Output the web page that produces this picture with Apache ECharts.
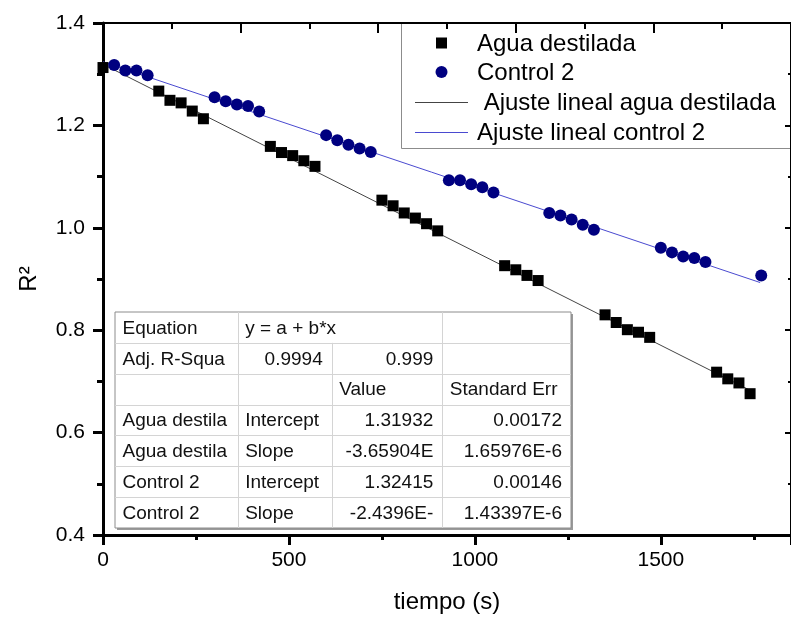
<!DOCTYPE html>
<html>
<head>
<meta charset="utf-8">
<script src="https://cdn.jsdelivr.net/npm/echarts@6/dist/echarts.min.js"></script>
<style>html,body{margin:0;padding:0;background:#fff}#c{width:791px;height:619px}</style>
</head>
<body>
<div id="c"></div>
<script>
// ---- data ----
const aguaT = [0,150,180,210,240,270,450,480,510,540,570,750,780,810,840,870,900,1080,1110,1140,1170,1350,1380,1410,1440,1470,1650,1680,1710,1740];
const aguaR2 = [1.313,1.267,1.249,1.244,1.228,1.213,1.159,1.147,1.141,1.131,1.120,1.054,1.043,1.029,1.019,1.008,0.994,0.926,0.918,0.907,0.897,0.830,0.815,0.801,0.796,0.786,0.718,0.705,0.697,0.676];
const controlT = [30,60,90,120,300,330,360,390,420,600,630,660,690,720,930,960,990,1020,1050,1200,1230,1260,1290,1320,1500,1530,1560,1590,1620,1770];
const controlR2 = [1.318,1.307,1.307,1.298,1.255,1.247,1.241,1.238,1.227,1.181,1.171,1.162,1.155,1.148,1.093,1.093,1.085,1.079,1.069,1.029,1.024,1.016,1.006,0.996,0.961,0.952,0.944,0.941,0.933,0.907];
const fitAguaT = [0,1745];
const fitAguaR2 = [1.3193,0.6808];
const fitControlT = [0,1767];
const fitControlR2 = [1.3242,0.8931];
const seriesNames = ['Agua destilada','Control 2',' Ajuste lineal agua destilada','Ajuste lineal control 2'];
const xTicks = [0,500,1000,1500];
const yTicks = [0.4,0.6,0.8,1.0,1.2,1.4];
const tableRows = [
  ['Equation','y = a + b*x','',''],
  ['Adj. R-Squa','0.9994','0.999',''],
  ['','','Value','Standard Err'],
  ['Agua destila','Intercept','1.31932','0.00172'],
  ['Agua destila','Slope','-3.65904E','1.65976E-6'],
  ['Control 2','Intercept','1.32415','0.00146'],
  ['Control 2','Slope','-2.4396E-','1.43397E-6']
];

// ---- layout / style ----
const FONT = 'Liberation Sans, Arial, Helvetica, sans-serif';
const zip = (a,b) => a.map((v,i)=>[v,b[i]]);
const G = {left:103, top:23, width:690, height:514};
const COL = {agua:'#000000', control:'#000080', fitAgua:'#444444', fitControl:'#4a4ad0'};

// table geometry
const TX = 115, TY = 312, TW = 456, TH = 216;
const colX = [115, 237.7, 331.7, 442.3, 571];
const rowH = TH / tableRows.length;
const align = [
  ['left','left','left','left'],
  ['left','right','right','right'],
  ['left','left','left','left'],
  ['left','left','right','right'],
  ['left','left','right','right'],
  ['left','left','right','right'],
  ['left','left','right','right']
];
const tableEls = [];
tableEls.push({type:'rect', shape:{x:TX+2,y:TY+2,width:TW,height:TH}, style:{fill:'#9a9a9a'}, z:50});
tableEls.push({type:'rect', shape:{x:TX,y:TY,width:TW,height:TH}, style:{fill:'#fff',stroke:'#8c8c8c',lineWidth:1}, z:51});
for (let k=1;k<tableRows.length;k++){
  const y = Math.round(TY + k*rowH)+0.5;
  tableEls.push({type:'line', shape:{x1:TX,y1:y,x2:TX+TW,y2:y}, style:{stroke:'#d4d4d4',lineWidth:1}, z:52});
}
[1,3].forEach(c=>{
  const x = Math.round(colX[c])+0.5;
  tableEls.push({type:'line', shape:{x1:x,y1:TY,x2:x,y2:TY+TH}, style:{stroke:'#d4d4d4',lineWidth:1}, z:52});
});
{
  const x = Math.round(colX[2])+0.5;
  tableEls.push({type:'line', shape:{x1:x,y1:TY+rowH,x2:x,y2:TY+TH}, style:{stroke:'#d4d4d4',lineWidth:1}, z:52});
}
tableRows.forEach((row,r)=>{
  row.forEach((txt,c)=>{
    if(!txt) return;
    const a = align[r][c];
    const x = a==='left' ? colX[c]+7.5 : colX[c+1]-9;
    tableEls.push({type:'text', z:53, style:{text:txt, x:x, y:TY+rowH*(r+0.5)+1, align:a, verticalAlign:'middle', font:'19px '+FONT, fill:'#111'}});
  });
});

// legend box (drawn as graphic for exact icon shapes)
const LG = {x:401.5, y:23.5, w:400, h:125, iconX:415, iconW:53, textX:477, rows:[43,72,102,132]};
const legendEls = [
  {type:'rect', shape:{x:LG.x,y:LG.y,width:LG.w,height:LG.h}, style:{fill:'#fff',stroke:'#8c8c8c',lineWidth:1}},
  {type:'rect', shape:{x:LG.iconX+LG.iconW/2-5.5, y:LG.rows[0]-5.5, width:11, height:11}, style:{fill:COL.agua}},
  {type:'circle', shape:{cx:LG.iconX+LG.iconW/2, cy:LG.rows[1], r:6}, style:{fill:COL.control}},
  {type:'line', shape:{x1:LG.iconX, y1:LG.rows[2]+0.5, x2:LG.iconX+LG.iconW, y2:LG.rows[2]+0.5}, style:{stroke:COL.fitAgua, lineWidth:1}},
  {type:'line', shape:{x1:LG.iconX, y1:LG.rows[3]+0.5, x2:LG.iconX+LG.iconW, y2:LG.rows[3]+0.5}, style:{stroke:COL.fitControl, lineWidth:1}}
];
seriesNames.forEach((n,i)=>{
  legendEls.push({type:'text', style:{text:n, x:LG.textX, y:LG.rows[i]+1, align:'left', verticalAlign:'middle', font:'24px '+FONT, fill:'#000'}});
});

const chart = echarts.init(document.getElementById('c'));
chart.setOption({
  animation:false,
  backgroundColor:'#fff',
  grid:{left:G.left, top:G.top, width:G.width, height:G.height},
  xAxis:[{
    type:'value', position:'bottom', min:0, max:1850, interval:500,
    name:'tiempo (s)', nameLocation:'middle', nameGap:55,
    nameTextStyle:{fontSize:24, fontFamily:FONT, color:'#000'},
    axisLine:{onZero:false, lineStyle:{color:'#000', width:3}},
    axisTick:{inside:false, length:10, lineStyle:{width:3, color:'#000'}},
    minorTick:{show:true, splitNumber:2, length:5, lineStyle:{width:3, color:'#000'}},
    axisLabel:{fontSize:21, fontFamily:FONT, color:'#000', margin:15, showMaxLabel:false,
      formatter:v=> xTicks.includes(v) ? String(v) : ''},
    splitLine:{show:false}
  },{
    type:'value', position:'top', min:0, max:5, interval:1,
    axisLine:{onZero:false, lineStyle:{color:'#000', width:2}},
    axisTick:{inside:true, length:10, lineStyle:{width:2, color:'#000'}},
    minorTick:{show:true, splitNumber:2, length:6, lineStyle:{width:2, color:'#000'}},
    axisLabel:{show:false}, splitLine:{show:false}
  }],
  yAxis:[{
    type:'value', position:'left', min:0.4, max:1.4, interval:0.2,
    name:'R²', nameLocation:'middle', nameGap:62, nameRotate:90,
    nameTextStyle:{fontSize:24, fontFamily:FONT, color:'#000'},
    axisLine:{onZero:false, lineStyle:{color:'#000', width:3}},
    axisTick:{inside:false, length:10, lineStyle:{width:3, color:'#000'}},
    minorTick:{show:true, splitNumber:2, length:6, lineStyle:{width:3, color:'#000'}},
    axisLabel:{fontSize:21, fontFamily:FONT, color:'#000', margin:18,
      formatter:v=> yTicks.some(t=>Math.abs(t-v)<1e-9) ? v.toFixed(1) : ''},
    splitLine:{show:false}
  },{
    type:'value', position:'right', min:0.4, max:1.4, interval:0.2,
    axisLine:{onZero:false, lineStyle:{color:'#000', width:2}},
    axisTick:{inside:true, length:6, lineStyle:{width:2, color:'#000'}},
    minorTick:{show:true, splitNumber:2, length:3, lineStyle:{width:2, color:'#000'}},
    axisLabel:{show:false}, splitLine:{show:false}
  }],
  series:[
    {name:seriesNames[0], type:'scatter', symbol:'rect', symbolSize:11, z:5,
     itemStyle:{color:COL.agua, opacity:1}, data:zip(aguaT,aguaR2)},
    {name:seriesNames[1], type:'scatter', symbol:'circle', symbolSize:12, z:5,
     itemStyle:{color:COL.control, opacity:1}, data:zip(controlT,controlR2)},
    {name:seriesNames[2], type:'line', symbol:'none', z:3,
     lineStyle:{color:COL.fitAgua, width:1}, data:zip(fitAguaT,fitAguaR2)},
    {name:seriesNames[3], type:'line', symbol:'none', z:3,
     lineStyle:{color:COL.fitControl, width:1}, data:zip(fitControlT,fitControlR2)}
  ],
  graphic:[
    {type:'group', children:legendEls, z:-1, silent:true},
    {type:'group', children:tableEls, z:50}
  ]
});
</script>
</body>
</html>
